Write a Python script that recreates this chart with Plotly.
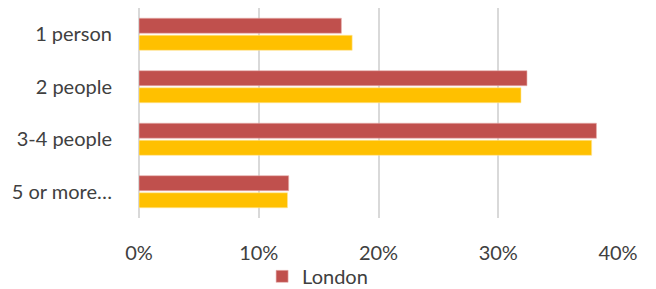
import plotly.graph_objects as go

categories = ["1 person", "2 people", "3-4 people", "5 or more…"]
london = [0.169, 0.324, 0.382, 0.125]
england = [0.178, 0.319, 0.378, 0.124]
tick_vals = [0, 0.1, 0.2, 0.3, 0.4]
tick_text = ["0%", "10%", "20%", "30%", "40%"]

fig = go.Figure()
fig.add_trace(go.Bar(y=categories, x=london, orientation="h", name="London",
                     marker=dict(color="#C0504D", line=dict(color="#E8B0AE", width=0.6))))
fig.add_trace(go.Bar(y=categories, x=england, orientation="h", name="England",
                     showlegend=False,
                     marker=dict(color="#FFC000", line=dict(color="#FFE699", width=0.6))))

fig.update_layout(
    width=656, height=289,
    margin=dict(l=131, r=46, t=0, b=79, autoexpand=False),
    paper_bgcolor="white", plot_bgcolor="white",
    barmode="group", bargap=0.35, bargroupgap=0.12,
    font=dict(family="Lato, Open Sans, sans-serif", size=20, color="#404040"),
    legend=dict(orientation="h", x=0.257, xanchor="left", y=-0.185, yanchor="top",
                bgcolor="rgba(0,0,0,0)",
                font=dict(size=20), itemwidth=30, tracegroupgap=0),
    xaxis=dict(range=[0, 0.4], tickvals=tick_vals, ticktext=tick_text,
               showgrid=True, gridcolor="#D9D9D9", gridwidth=1.5,
               zeroline=True, zerolinecolor="#D9D9D9", zerolinewidth=1.5,
               showline=False, ticks="", ticklabelstandoff=21, automargin=False),
    yaxis=dict(autorange="reversed", showgrid=False, ticks="", showline=False,
               ticklabelstandoff=26, automargin=False),
)

fig.write_html("out.html")
